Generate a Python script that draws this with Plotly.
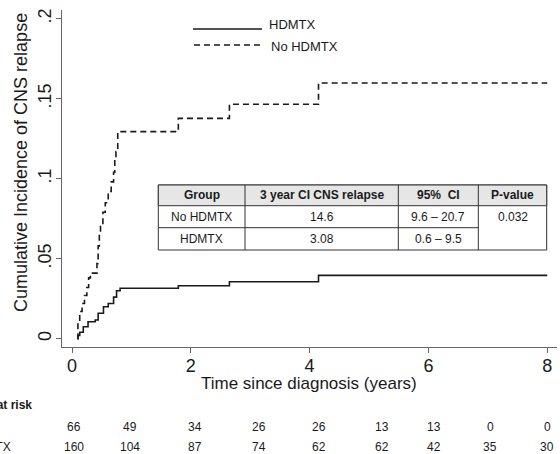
import plotly.graph_objects as go

# ---------------- data ----------------
hdmtx_t = [0.09, 0.10, 0.13, 0.19, 0.27, 0.39, 0.44, 0.53, 0.61, 0.70, 0.75, 0.81, 1.79, 2.65, 4.15, 8.0]
hdmtx_ci = [0.0, 0.002, 0.004, 0.0075, 0.0106, 0.0117, 0.0159, 0.020, 0.022, 0.026, 0.030, 0.0315, 0.0331, 0.0356, 0.0396, 0.0396]

nohd_t = [0.09, 0.10, 0.13, 0.17, 0.21, 0.25, 0.28, 0.31, 0.42, 0.44, 0.46, 0.48, 0.52, 0.56, 0.61, 0.66,
          0.70, 0.72, 0.74, 0.77, 1.79, 2.65, 4.15, 8.0]
nohd_ci = [0.0, 0.010, 0.017, 0.022, 0.027, 0.032, 0.038, 0.041, 0.047, 0.058, 0.066, 0.072, 0.079, 0.085, 0.092, 0.098,
           0.104, 0.112, 0.117, 0.1294, 0.1377, 0.1465, 0.1598, 0.1598]

x_ticks = [0, 2, 4, 6, 8]
y_ticks = [0, 0.05, 0.1, 0.15, 0.2]
y_ticktext = ["0", ".05", ".1", ".15", ".2"]

risk_nohd = [66, 49, 34, 26, 26, 13, 13, 0, 0]
risk_hd = [160, 104, 87, 74, 62, 62, 42, 35, 30]

table_header = ["Group", "3 year CI CNS relapse", "95%  CI", "P-value"]
table_groups = ["No HDMTX", "HDMTX"]
table_ci3 = ["14.6", "3.08"]
table_ci95 = ["9.6 – 20.7", "0.6 – 9.5"]
table_p = "0.032"

# ---------------- layout geometry (pixels) ----------------
W, H = 560, 454
PL, PR, PT, PB = 62, 557, 10, 347
RISK_COL_PX = [74, 130, 195, 259, 319, 382, 434, 490, 547]


def px(x):
    return (x - PL) / (PR - PL)


def py(y):
    return (PB - y) / (PB - PT)


FONT = "Arial, Liberation Sans, Helvetica, sans-serif"
INK = "#1a1a1a"

fig = go.Figure()
fig.add_trace(go.Scatter(x=hdmtx_t, y=hdmtx_ci, mode="lines", line_shape="hv",
                         line=dict(color=INK, width=1.6), name="HDMTX", showlegend=False))
fig.add_trace(go.Scatter(x=nohd_t, y=nohd_ci, mode="lines", line_shape="hv",
                         line=dict(color=INK, width=1.6, dash="6px,4px"), name="No HDMTX", showlegend=False))

shapes = []
annotations = []

# legend
shapes.append(dict(type="line", xref="paper", yref="paper", x0=px(193), x1=px(262), y0=py(29), y1=py(29),
                   line=dict(color=INK, width=1.6)))
shapes.append(dict(type="line", xref="paper", yref="paper", x0=px(194), x1=px(262), y0=py(45), y1=py(45),
                   line=dict(color=INK, width=1.6, dash="6px,4px")))
annotations.append(dict(xref="paper", yref="paper", x=px(267), y=py(25), text="HDMTX", showarrow=False,
                        xanchor="left", yanchor="middle", font=dict(size=13, color=INK, family=FONT)))
annotations.append(dict(xref="paper", yref="paper", x=px(269), y=py(46), text="No HDMTX", showarrow=False,
                        xanchor="left", yanchor="middle", font=dict(size=13, color=INK, family=FONT)))

# table
tl, tr, tt, tb = 158.3, 546.7, 185, 250
hb, r1b = 205.7, 227.7
cols = [158.3, 245, 398.3, 478.3, 546.7]
BC = "#333333"
shapes.append(dict(type="rect", xref="paper", yref="paper", x0=px(tl), x1=px(tr), y0=py(tb), y1=py(tt),
                   fillcolor="white", line=dict(color=BC, width=1), layer="above"))
shapes.append(dict(type="rect", xref="paper", yref="paper", x0=px(tl), x1=px(tr), y0=py(hb), y1=py(tt),
                   fillcolor="#e6e6e6", line=dict(color=BC, width=1), layer="above"))
shapes.append(dict(type="line", xref="paper", yref="paper", x0=px(tl), x1=px(cols[3]), y0=py(r1b), y1=py(r1b),
                   line=dict(color=BC, width=1), layer="above"))
for c in cols[1:4]:
    shapes.append(dict(type="line", xref="paper", yref="paper", x0=px(c), x1=px(c), y0=py(tb), y1=py(tt),
                       line=dict(color=BC, width=1), layer="above"))

centers = [(cols[i] + cols[i + 1]) / 2 for i in range(4)]
for i, h in enumerate(table_header):
    annotations.append(dict(xref="paper", yref="paper", x=px(centers[i]), y=py((tt + hb) / 2), text="<b>%s</b>" % h,
                            showarrow=False, xanchor="center", yanchor="middle",
                            font=dict(size=12, color=INK, family=FONT)))
row_y = [(hb + r1b) / 2, (r1b + tb) / 2]
for r in range(2):
    for i, txt in enumerate([table_groups[r], table_ci3[r], table_ci95[r]]):
        annotations.append(dict(xref="paper", yref="paper", x=px(centers[i]), y=py(row_y[r]), text=txt,
                                showarrow=False, xanchor="center", yanchor="middle",
                                font=dict(size=12, color=INK, family=FONT)))
annotations.append(dict(xref="paper", yref="paper", x=px(centers[3]), y=py(row_y[0]), text=table_p,
                        showarrow=False, xanchor="center", yanchor="middle",
                        font=dict(size=12, color=INK, family=FONT)))

# axis titles
annotations.append(dict(xref="paper", yref="paper", x=px(21), y=py(163), text="Cumulative Incidence of CNS relapse",
                        textangle=-90, showarrow=False, xanchor="center", yanchor="middle",
                        font=dict(size=18, color=INK, family=FONT)))
annotations.append(dict(xref="paper", yref="paper", x=px(309), y=py(384), text="Time since diagnosis (years)",
                        showarrow=False, xanchor="center", yanchor="middle",
                        font=dict(size=17, color=INK, family=FONT)))

# number at risk
annotations.append(dict(xref="paper", yref="paper", x=px(34), y=py(405), text="<b>Number at risk</b>",
                        showarrow=False, xanchor="right", yanchor="middle",
                        font=dict(size=12, color=INK, family=FONT)))
annotations.append(dict(xref="paper", yref="paper", x=px(-4), y=py(426.5), text="No HDMTX",
                        showarrow=False, xanchor="right", yanchor="middle",
                        font=dict(size=12, color=INK, family=FONT)))
annotations.append(dict(xref="paper", yref="paper", x=px(13), y=py(446.5), text="HDMTX",
                        showarrow=False, xanchor="right", yanchor="middle",
                        font=dict(size=12, color=INK, family=FONT)))
for xp, a, b in zip(RISK_COL_PX, risk_nohd, risk_hd):
    annotations.append(dict(xref="paper", yref="paper", x=px(xp), y=py(426.5), text=str(a), showarrow=False,
                            xanchor="center", yanchor="middle", font=dict(size=12, color=INK, family=FONT)))
    annotations.append(dict(xref="paper", yref="paper", x=px(xp), y=py(446.5), text=str(b), showarrow=False,
                            xanchor="center", yanchor="middle", font=dict(size=12, color=INK, family=FONT)))

x0_data = (PL - 72) / 59.4
x1_data = (PR - 72) / 59.4
y0_data = (338.7 - PB) / 1600
y1_data = (338.7 - PT) / 1600

fig.update_layout(
    width=W, height=H,
    margin=dict(l=PL, r=W - PR, t=PT, b=H - PB, pad=0),
    paper_bgcolor="white", plot_bgcolor="white",
    shapes=shapes, annotations=annotations,
    font=dict(family=FONT, color=INK),
    xaxis=dict(range=[x0_data, x1_data], tickvals=x_ticks, ticktext=[str(v) for v in x_ticks],
               showgrid=False, zeroline=False, showline=True, linecolor="#666", linewidth=1,
               ticks="outside", ticklen=5, tickcolor="#666", tickfont=dict(size=18, color=INK, family=FONT),
               ticklabelstandoff=-3, fixedrange=True),
    yaxis=dict(range=[y0_data, y1_data], tickvals=y_ticks, ticktext=y_ticktext, tickangle=-90,
               showgrid=False, zeroline=False, showline=True, linecolor="#666", linewidth=1,
               ticks="outside", ticklen=5, tickcolor="#666", tickfont=dict(size=18, color=INK, family=FONT),
               ticklabelstandoff=-2, fixedrange=True),
)

fig.write_html("out.html", config={"displayModeBar": False},
               post_script="document.body.style.margin='0';document.body.style.overflow='hidden';")
